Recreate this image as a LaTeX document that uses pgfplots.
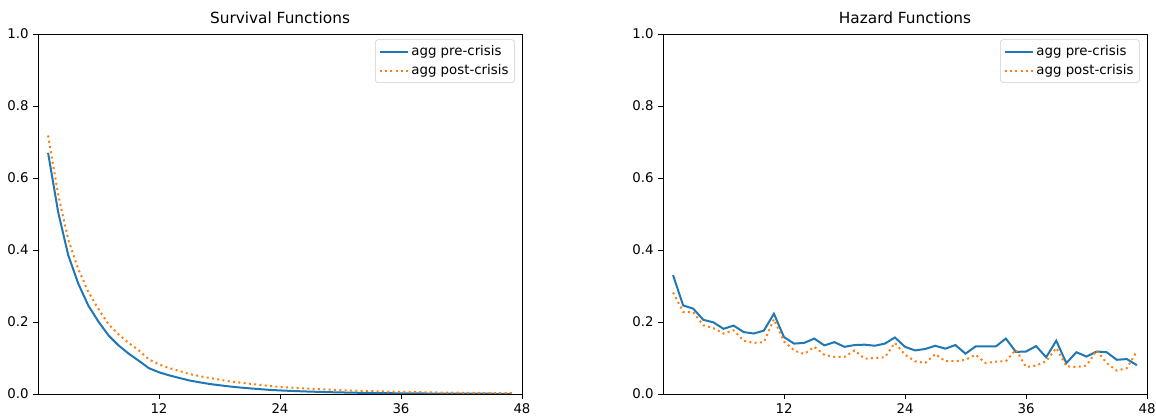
\documentclass[border=0pt]{standalone}
\usepackage{fontspec}
\setmainfont{DejaVu Sans}
\usepackage{pgfplots}
\usepackage{pgfplotstable}
\pgfplotsset{compat=1.18}

\definecolor{tabblue}{HTML}{1F77B4}
\definecolor{taborange}{HTML}{FF7F0E}

% month, survival pre/post, hazard pre/post
\pgfplotstableread{
t  spre    spost   hpre   hpost
1  0.6700  0.7180  0.330  0.282
2  0.5052  0.5543  0.246  0.228
3  0.3855  0.4285  0.237  0.227
4  0.3061  0.3466  0.206  0.191
5  0.2452  0.2832  0.199  0.183
6  0.2008  0.2356  0.181  0.168
7  0.1626  0.1939  0.190  0.177
8  0.1347  0.1652  0.172  0.148
9  0.1120  0.1417  0.168  0.142
10 0.0923  0.1213  0.176  0.144
11 0.0717  0.0961  0.223  0.208
12 0.0604  0.0821  0.158  0.146
13 0.0519  0.0722  0.140  0.121
14 0.0446  0.0641  0.142  0.111
15 0.0377  0.0557  0.154  0.131
16 0.0326  0.0497  0.135  0.109
17 0.0279  0.0445  0.144  0.103
18 0.0243  0.0399  0.131  0.103
19 0.0210  0.0351  0.136  0.121
20 0.0181  0.0317  0.137  0.098
21 0.0157  0.0285  0.134  0.100
22 0.0135  0.0256  0.140  0.102
23 0.0114  0.0220  0.157  0.142
24 0.0099  0.0196  0.131  0.109
25 0.0087  0.0178  0.121  0.091
26 0.0076  0.0163  0.125  0.086
27 0.0066  0.0145  0.134  0.111
28 0.0058  0.0132  0.126  0.091
29 0.0050  0.0120  0.136  0.091
30 0.0044  0.0108  0.112  0.095
31 0.0038  0.0097  0.132  0.109
32 0.0033  0.0088  0.132  0.086
33 0.0029  0.0080  0.132  0.090
34 0.0025  0.0073  0.154  0.091
35 0.0022  0.0064  0.117  0.123
36 0.0019  0.0059  0.118  0.075
37 0.0017  0.0055  0.133  0.079
38 0.0015  0.0050  0.102  0.091
39 0.0013  0.0044  0.148  0.128
40 0.0012  0.0040  0.086  0.077
41 0.0011  0.0037  0.116  0.075
42 0.0010  0.0034  0.104  0.079
43 0.0008  0.0030  0.118  0.121
44 0.0007  0.0027  0.116  0.086
45 0.0007  0.0025  0.095  0.065
46 0.0006  0.0024  0.097  0.072
47 0.0006  0.0021  0.080  0.119
}\datatable

\pgfplotsset{
  panel/.style={
    scale only axis, width=363pt, height=270pt,
    xmin=0, xmax=48, ymin=0, ymax=1,
    xtick={12,24,36,48}, ytick={0,0.2,0.4,0.6,0.8,1.0},
    xtick pos=left, ytick pos=left,
    tick align=outside, major tick length=3.5pt,
    every tick/.style={black, line width=0.6pt},
    axis line style={line width=0.6pt},
    tick label style={font=\fontsize{10}{12}\selectfont},
    /pgf/number format/assume math mode=true,
    yticklabel style={/pgf/number format/.cd, fixed, fixed zerofill, precision=1},
    title style={font=\fontsize{11.5}{14}\selectfont, yshift=-2pt},
    legend style={at={(0.985,0.985)}, anchor=north east, draw=black!20,
      rounded corners=2pt, font=\fontsize{10}{12}\selectfont,
      row sep=1pt, inner sep=2.5pt},
    legend cell align=left,
    legend image code/.code={\draw[##1] (0pt,0pt) -- (21pt,0pt);},
  },
  pre/.style={tabblue, line width=1.5pt},
  post/.style={taborange, line width=1.5pt, dash pattern=on 1.5pt off 2.5pt},
}

\begin{document}
\begin{tikzpicture}
\useasboundingbox (-28.5pt,-17.25pt) rectangle (838.5pt,295.5pt);
\begin{axis}[panel, title={Survival Functions}]
\addplot[pre] table[x=t, y=spre] {\datatable};
\addplot[post] table[x=t, y=spost] {\datatable};
\legend{agg pre-crisis, agg post-crisis}
\end{axis}
\begin{axis}[panel, xshift=468.75pt, title={Hazard Functions}]
\addplot[pre] table[x=t, y=hpre] {\datatable};
\addplot[post] table[x=t, y=hpost] {\datatable};
\legend{agg pre-crisis, agg post-crisis}
\end{axis}
\end{tikzpicture}
\end{document}
